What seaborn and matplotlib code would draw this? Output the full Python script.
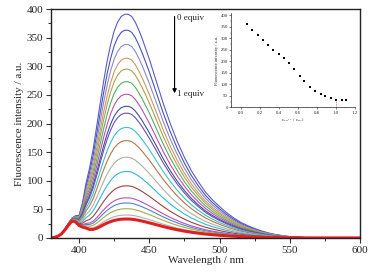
import numpy as np
import pandas as pd
import matplotlib
matplotlib.use("Agg")
import matplotlib.pyplot as plt
from matplotlib.ticker import MultipleLocator
import seaborn as sns

# emission spectra
wavelength = [380 + 2.5 * i for i in range(41)] + list(range(485, 605, 5))
# normalised main band (peak ~435 nm)
band_shape = [0, 0, 0, 0, 0.005, 0.01, 0.015, 0.03, 0.05,
              0.12, 0.22, 0.30, 0.39, 0.495, 0.60, 0.70, 0.79, 0.865, 0.925,
              0.965, 0.99, 1.0, 1.0, 0.99, 0.965, 0.93, 0.89, 0.845, 0.80,
              0.75, 0.70, 0.65, 0.60, 0.555, 0.51, 0.47, 0.43, 0.395, 0.36,
              0.33, 0.30,
              0.25, 0.205, 0.17, 0.14, 0.113, 0.09, 0.07, 0.055, 0.042, 0.031,
              0.022, 0.015, 0.01, 0.006, 0.004, 0.002, 0.001, 0.0005,
              0, 0, 0, 0, 0, 0]
# small band near 396 nm, same in every curve
shoulder = [0, 1, 3, 7, 14, 22, 29, 27, 20, 15, 10, 5, 2, 0.5] + [0] * 51
peak_heights = [391, 363, 338, 314, 295, 273, 251, 230, 218, 193,
                170, 141, 116, 91, 70, 61, 51, 40, 33]
line_colors = ['#5b5bc8', '#4a55b0', '#8a8ad0', '#c89a60', '#b0a050',
               '#50b060', '#c04eb0', '#4050a0', '#6a50b0', '#40c0c0',
               '#b07850', '#b0b0a0', '#30b8d8', '#a04040', '#c050b0',
               '#5080d0', '#a0b040', '#b0b0b0', '#e02020']

# inset titration curve
ratio = [0.07, 0.12, 0.18, 0.23, 0.29, 0.34, 0.40, 0.45, 0.51, 0.56,
         0.62, 0.67, 0.73, 0.78, 0.84, 0.89, 0.95, 1.00, 1.06, 1.11]
inset_intensity = [361, 337, 313, 294, 272, 250, 230, 215, 194, 167,
                   138, 115, 89, 70, 60, 49, 39, 33, 33, 33]

rows = []
for i, h in enumerate(peak_heights):
    for w, b, s in zip(wavelength, band_shape, shoulder):
        rows.append({'wl': w, 'I': s + h * b, 'curve': i})
df = pd.DataFrame(rows)

sns.set_theme(style="ticks")
plt.rcParams['font.family'] = ['Liberation Serif', 'DejaVu Serif']
plt.rcParams['mathtext.fontset'] = 'stix'

fig = plt.figure(figsize=(3.83, 2.76), dpi=100)
ax = fig.add_axes([0.133, 0.138, 0.807, 0.829])

thin = df[df['curve'] < len(peak_heights) - 1]
sns.lineplot(data=thin, x='wl', y='I', hue='curve', palette=line_colors[:-1],
             linewidth=0.8, legend=False, ax=ax, sort=False)
last = df[df['curve'] == len(peak_heights) - 1]
sns.lineplot(data=last, x='wl', y='I', color=line_colors[-1], linewidth=2.2,
             legend=False, ax=ax, sort=False)

ax.set_xlim(380, 600)
ax.set_ylim(0, 400)
ax.xaxis.set_major_locator(MultipleLocator(50))
ax.xaxis.set_minor_locator(MultipleLocator(25))
ax.yaxis.set_major_locator(MultipleLocator(50))
ax.yaxis.set_minor_locator(MultipleLocator(25))
ax.tick_params(which='major', direction='out', length=3.5, width=0.8,
               labelsize=8, pad=2, color='#333333')
ax.tick_params(which='minor', direction='out', length=2, width=0.7, color='#333333')
for sp in ax.spines.values():
    sp.set_linewidth(1.0)
    sp.set_color('#222222')
ax.set_xlabel('Wavelength / nm', fontsize=8, labelpad=1)
ax.set_ylabel('Fluorescence intensity / a.u.', fontsize=8, labelpad=2)

ax.annotate('', xy=(468, 248), xytext=(468, 392),
            arrowprops=dict(arrowstyle='-|>', color='black', lw=0.8,
                            mutation_scale=6))
ax.text(470, 384, '0 equiv', fontsize=6.5, va='center', ha='left')
ax.text(470, 252, '1 equiv', fontsize=6.5, va='center', ha='left')

# inset
ins = fig.add_axes([0.604, 0.611, 0.3225, 0.342])
sns.scatterplot(x=ratio, y=inset_intensity, marker='s', color='black',
                s=2.5, linewidth=0, ax=ins)
ins.plot([1.0, 1.0], [0, 28], color='#e02020', lw=0.6, ls=':')
ins.set_xlim(-0.1, 1.2)
ins.set_ylim(0, 410)
ins.set_facecolor('none')
ins.xaxis.set_major_locator(MultipleLocator(0.2))
ins.xaxis.set_minor_locator(MultipleLocator(0.1))
ins.yaxis.set_major_locator(MultipleLocator(50))
ins.yaxis.set_minor_locator(MultipleLocator(25))
ins.tick_params(which='major', direction='out', length=1.5, width=0.4,
                labelsize=3.5, pad=1)
ins.tick_params(which='minor', direction='out', length=0.8, width=0.3)
ins.spines['top'].set_visible(False)
ins.spines['right'].set_visible(False)
for s in ['left', 'bottom']:
    ins.spines[s].set_linewidth(0.5)
ins.set_xlabel('c$_{Cu^{2+}}$ / c$_{BJ1}$', fontsize=3.5, labelpad=1)
ins.set_ylabel('Fluorescence intensity / a.u.', fontsize=3.2, labelpad=1)

fig.savefig('out.png', dpi=100)
